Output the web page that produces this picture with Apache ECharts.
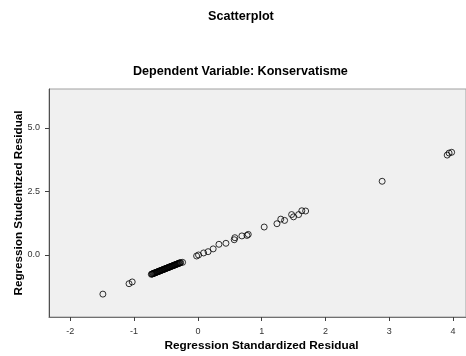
<!DOCTYPE html>
<html><head><meta charset="utf-8">
<script src="https://cdn.jsdelivr.net/npm/echarts@6/dist/echarts.min.js"></script>
<style>html,body{margin:0;padding:0;background:#fff}#c{width:466px;height:356px}</style>
</head><body><div id="c"></div>
<script>
var chartTitle = 'Scatterplot';
var chartSubtitle = 'Dependent Variable: Konservatisme';
var xName = 'Regression Standardized Residual';
var yName = 'Regression Studentized Residual';
var xTicks = [-2, -1, 0, 1, 2, 3, 4];
var yTicks = [0, 2.5, 5];
var stdResid = [-1.49,-1.08,-1.03,
 -0.73,-0.72,-0.71,-0.70,-0.69,-0.68,-0.67,-0.66,-0.65,-0.64,-0.63,-0.62,-0.61,-0.60,-0.59,-0.58,
 -0.57,-0.56,-0.55,-0.54,-0.53,-0.52,-0.51,-0.50,-0.49,-0.48,-0.47,-0.46,-0.45,-0.44,-0.43,-0.42,
 -0.41,-0.40,-0.39,-0.38,-0.37,-0.36,-0.35,-0.34,-0.33,-0.32,-0.31,-0.30,-0.29,-0.28,-0.27,-0.24,
 -0.02,0.01,0.09,0.16,0.24,0.33,0.44,0.57,0.58,0.69,0.77,0.79,
 1.04,1.24,1.30,1.36,1.47,1.50,1.58,1.63,1.69,2.89,3.91,3.94,3.98];
var studResid = [-1.54,-1.13,-1.06,
 -0.76,-0.75,-0.74,-0.73,-0.72,-0.71,-0.70,-0.69,-0.68,-0.67,-0.66,-0.65,-0.64,-0.63,-0.62,-0.61,
 -0.60,-0.59,-0.58,-0.57,-0.56,-0.55,-0.54,-0.53,-0.52,-0.51,-0.50,-0.49,-0.48,-0.47,-0.46,-0.45,
 -0.44,-0.43,-0.42,-0.41,-0.40,-0.39,-0.38,-0.37,-0.36,-0.35,-0.34,-0.33,-0.32,-0.31,-0.30,-0.29,
 -0.04,0.00,0.08,0.13,0.24,0.42,0.46,0.60,0.68,0.75,0.77,0.81,
 1.10,1.23,1.41,1.36,1.59,1.50,1.59,1.74,1.73,2.90,3.93,4.01,4.04];

var pts = stdResid.map(function(v, i){ return [v, studResid[i]]; });
var font = 'Liberation Sans, Arial, sans-serif';
var chart = echarts.init(document.getElementById('c'), null, {renderer:'canvas'});
chart.setOption({
  animation: false,
  backgroundColor: '#ffffff',
  title: [
    {text: chartTitle, left: 203, top: 5,
     textStyle: {fontFamily: font, fontSize: 12.6, fontWeight: 'bold', color: '#000'}},
    {text: chartSubtitle, left: 128, top: 60,
     textStyle: {fontFamily: font, fontSize: 12.6, fontWeight: 'bold', color: '#000'}}
  ],
  grid: {left: 49, top: 89, right: 0, bottom: 39, show: true, outerBoundsMode: 'none',
    containLabel: false,
    backgroundColor: '#f0f0f0', borderColor: '#a0a0a0', borderWidth: 1},
  xAxis: {
    type: 'value', min: -2.335, max: 4.205,
    name: xName, nameLocation: 'middle', nameGap: 23, nameMoveOverlap: false,
    nameTextStyle: {fontFamily: font, fontSize: 11.8, fontWeight: 'bold', color: '#000',
      padding: [0, 0, 0, 8]},
    axisLine: {show: true, onZero: false, lineStyle: {color: '#707070', width: 1}},
    axisTick: {show: true, length: 4, customValues: xTicks, lineStyle: {color: '#404040'}},
    axisLabel: {customValues: xTicks, margin: 10, fontFamily: font, fontSize: 9, color: '#333',
      formatter: function(v){ return String(v); }},
    splitLine: {show: false}
  },
  yAxis: {
    type: 'value', min: -2.44, max: 6.53,
    name: yName, nameLocation: 'middle', nameGap: 24, nameMoveOverlap: false,
    nameTextStyle: {fontFamily: font, fontSize: 11.7, fontWeight: 'bold', color: '#000'},
    axisLine: {show: true, onZero: false, lineStyle: {color: '#505050', width: 1}},
    axisTick: {show: true, length: 4, customValues: yTicks, lineStyle: {color: '#404040'}},
    axisLabel: {customValues: yTicks, margin: 9, fontFamily: font, fontSize: 9, color: '#333',
      formatter: function(v){ return v.toFixed(1); }},
    splitLine: {show: false}
  },
  series: [{
    type: 'scatter', data: pts, symbol: 'circle', symbolSize: 6,
    itemStyle: {color: 'rgba(0,0,0,0)', borderColor: '#000', borderWidth: 1}
  }]
});
</script></body></html>
